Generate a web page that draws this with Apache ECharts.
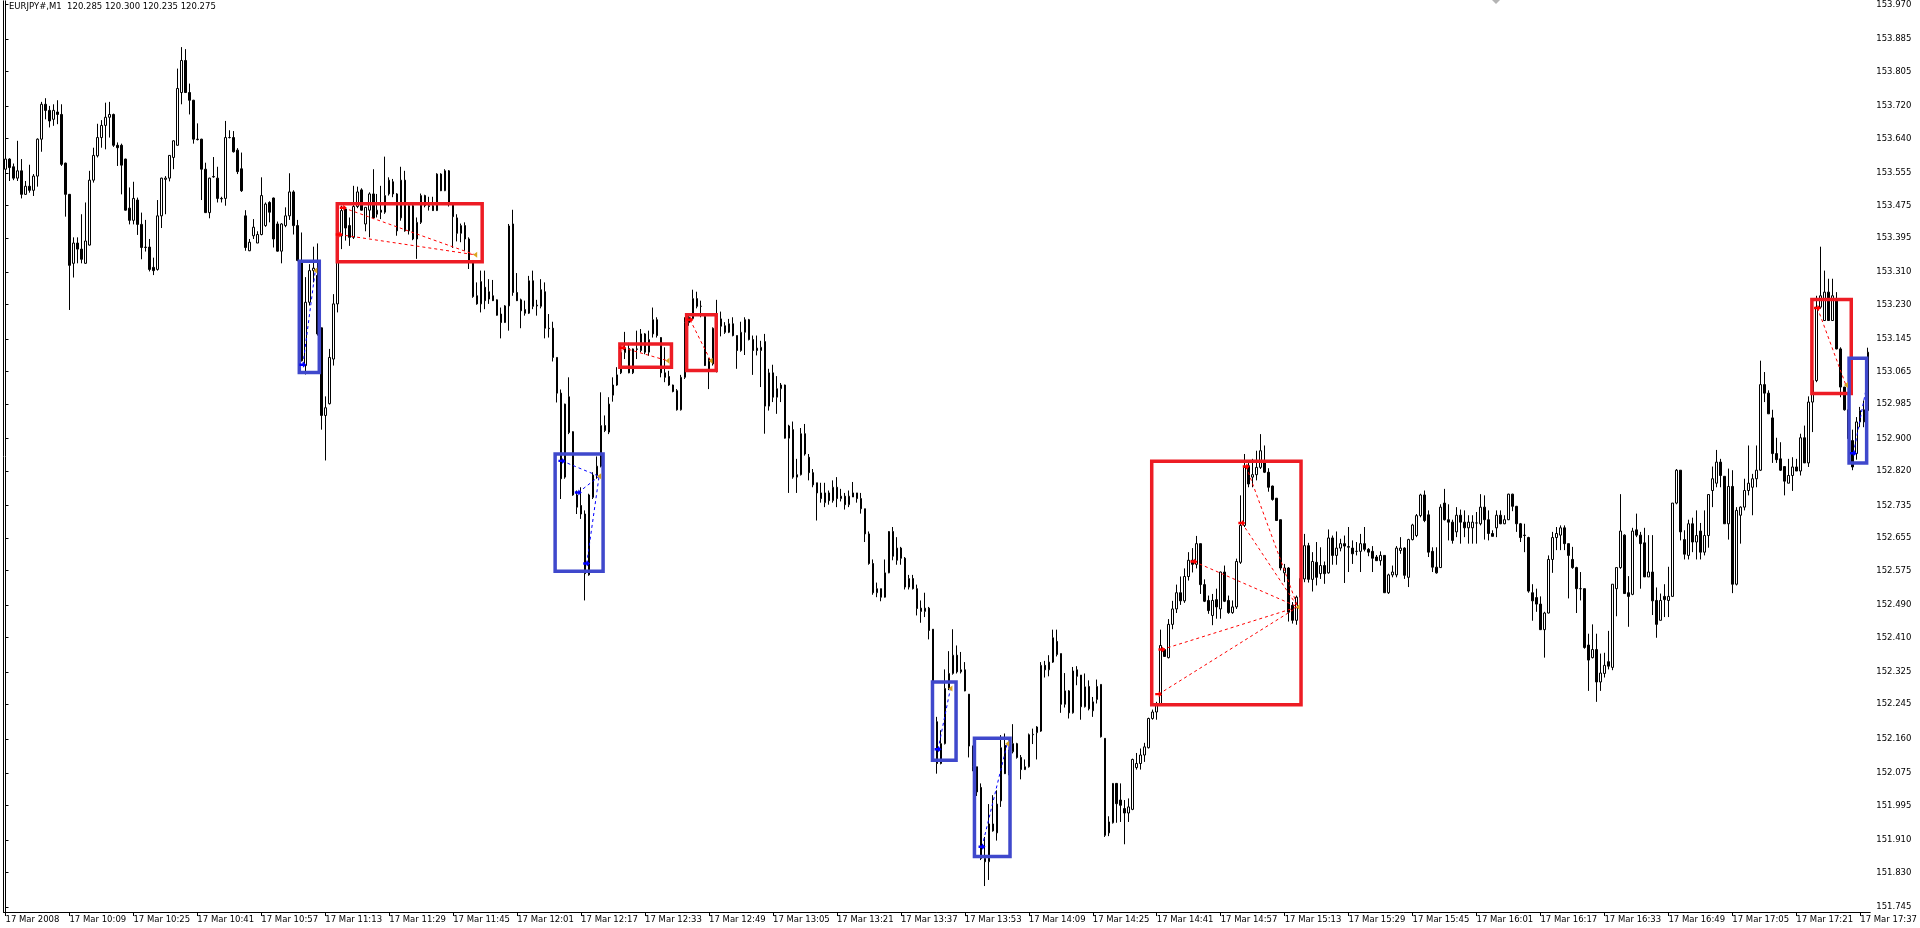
<!DOCTYPE html>
<html><head><meta charset="utf-8">
<script src="https://cdn.jsdelivr.net/npm/echarts@6/dist/echarts.min.js"></script>
<style>html,body{margin:0;padding:0;background:#fff}#c{width:1920px;height:928px}</style>
</head><body><div id="c"></div>
<script>
// ---- categories: one-minute bars from 09:53 to 17:39 on 17 Mar 2008
const startMinute = 9 * 60 + 53;
const barCount = 467;
const categories = [];
for (let i = 0; i < barCount; i++) {
  const m = startMinute + i;
  categories.push(String(Math.floor(m / 60)).padStart(2, '0') + ':' + String(m % 60).padStart(2, '0'));
}
const xTickLabels = ['17 Mar 2008','17 Mar 10:09','17 Mar 10:25','17 Mar 10:41','17 Mar 10:57','17 Mar 11:13','17 Mar 11:29','17 Mar 11:45','17 Mar 12:01','17 Mar 12:17','17 Mar 12:33','17 Mar 12:49','17 Mar 13:05','17 Mar 13:21','17 Mar 13:37','17 Mar 13:53','17 Mar 14:09','17 Mar 14:25','17 Mar 14:41','17 Mar 14:57','17 Mar 15:13','17 Mar 15:29','17 Mar 15:45','17 Mar 16:01','17 Mar 16:17','17 Mar 16:33','17 Mar 16:49','17 Mar 17:05','17 Mar 17:21','17 Mar 17:37'];
const yTickValues = [153.970,153.885,153.805,153.720,153.640,153.555,153.475,153.395,153.310,153.230,153.145,153.065,152.985,152.900,152.820,152.735,152.655,152.575,152.490,152.410,152.325,152.245,152.160,152.075,151.995,151.910,151.830,151.745];
const titleText = 'EURJPY#,M1  120.285 120.300 120.235 120.275';

const opens = [
153.564,153.589,153.570,153.542,153.560,153.502,153.522,153.512,153.547,153.638,
153.724,153.709,153.687,153.705,153.699,153.579,153.502,153.332,153.382,153.367,
153.332,153.377,153.537,153.597,153.642,153.672,153.692,153.699,153.623,153.623,
153.589,153.468,153.438,153.488,153.428,153.371,153.372,153.322,153.317,153.449,
153.539,153.542,153.593,153.623,153.753,153.832,153.753,153.734,153.638,153.638,
153.564,153.457,153.545,153.542,153.492,153.492,153.642,153.642,153.611,153.565,
153.449,153.363,153.400,153.382,153.403,153.425,153.482,153.493,153.429,153.362,
153.425,153.449,153.508,153.425,153.334,153.080,153.236,153.314,153.302,153.173,
152.957,152.986,153.096,153.232,153.400,153.466,153.425,153.396,153.472,153.513,
153.429,153.463,153.503,153.453,153.463,153.458,153.503,153.533,153.503,153.444,
153.537,153.412,153.474,153.392,153.433,153.499,153.474,153.474,153.462,153.552,
153.511,153.560,153.478,153.444,153.406,153.425,153.392,153.339,153.252,153.232,
153.273,153.244,153.252,153.242,153.207,153.186,153.227,153.429,153.260,153.242,
153.218,153.209,153.289,153.227,153.226,153.262,153.172,153.172,153.100,153.012,
152.805,153.003,152.917,152.761,152.735,152.714,152.564,152.755,152.810,152.832,
152.932,152.916,153.007,153.032,153.062,153.112,153.122,153.062,153.121,153.117,
153.158,153.113,153.158,153.193,153.149,153.062,153.053,153.032,153.018,152.971,
153.051,153.186,153.196,153.245,153.226,153.201,153.071,153.084,153.172,153.195,
153.178,153.162,153.183,153.154,153.117,153.162,153.193,153.144,153.117,153.117,
153.139,152.980,153.062,153.002,153.023,153.032,152.901,152.922,152.805,152.811,
152.912,152.854,152.816,152.791,152.766,152.742,152.766,152.747,152.780,152.752,
152.758,152.737,152.756,152.766,152.752,152.727,152.665,152.592,152.520,152.530,
152.509,152.569,152.671,152.600,152.630,152.605,152.534,152.555,152.530,152.482,
152.474,152.482,152.430,152.202,152.099,152.148,152.284,152.321,152.366,152.325,
152.330,152.270,152.142,152.091,152.040,151.865,151.857,151.950,151.928,152.007,
152.144,152.074,152.128,152.148,152.114,152.084,152.091,152.170,152.175,152.179,
152.341,152.330,152.349,152.400,152.370,152.245,152.278,152.224,152.330,152.317,
152.239,152.289,152.229,152.257,152.294,152.161,151.928,151.953,152.050,152.009,
151.988,151.977,151.986,152.089,152.099,152.120,152.138,152.210,152.226,152.247,
152.380,152.360,152.442,152.480,152.520,152.500,152.560,152.600,152.590,152.641,
152.540,152.501,152.464,152.503,152.480,152.571,152.501,152.471,152.485,152.595,
152.686,152.833,152.805,152.811,152.829,152.840,152.817,152.783,152.753,152.700,
152.569,152.581,152.489,152.452,152.509,152.554,152.636,152.553,152.595,152.567,
152.587,152.569,152.655,152.612,152.630,152.641,152.632,152.630,152.622,152.622,
152.641,152.627,152.622,152.608,152.599,152.612,152.520,152.564,152.564,152.624,
152.630,152.558,152.651,152.661,152.710,152.761,152.712,152.622,152.583,152.582,
152.741,152.700,152.694,152.670,152.711,152.694,152.680,152.680,152.692,152.690,
152.731,152.700,152.666,152.680,152.711,152.690,152.700,152.763,152.733,152.690,
152.662,152.656,152.520,152.508,152.492,152.429,152.470,152.602,152.656,152.662,
152.680,152.641,152.602,152.582,152.530,152.530,152.391,152.360,152.380,152.300,
152.321,152.350,152.336,152.530,152.582,152.662,152.520,152.516,152.675,152.662,
152.643,152.559,152.571,152.501,152.452,152.511,152.501,152.511,152.741,152.822,
152.651,152.612,152.690,152.645,152.672,152.620,152.661,152.772,152.790,152.842,
152.807,152.690,152.782,152.541,152.711,152.731,152.772,152.780,152.801,152.822,
153.033,153.012,152.951,152.863,152.850,152.831,152.790,152.809,152.830,152.820,
152.902,152.840,152.990,153.043,153.224,153.191,153.261,153.191,153.242,153.121,
153.027,152.971,152.895,152.863,152.941,152.941,152.969];

const closes = [
153.589,153.568,153.542,153.560,153.502,153.522,153.512,153.547,153.638,153.724,
153.709,153.683,153.709,153.699,153.576,153.502,153.327,153.382,153.367,153.342,
153.387,153.537,153.598,153.642,153.672,153.692,153.699,153.623,153.617,153.574,
153.463,153.438,153.492,153.428,153.371,153.372,153.317,153.314,153.449,153.542,
153.542,153.598,153.634,153.763,153.832,153.753,153.734,153.638,153.637,153.564,
153.457,153.542,153.546,153.492,153.491,153.642,153.642,153.607,153.558,153.511,
153.371,153.384,153.421,153.403,153.499,153.478,153.458,153.392,153.362,153.429,
153.449,153.508,153.425,153.339,153.092,153.236,153.314,153.320,153.158,152.957,
152.976,153.100,153.232,153.400,153.462,153.419,153.396,153.472,153.508,153.463,
153.470,153.503,153.444,153.463,153.458,153.499,153.537,153.503,153.412,153.537,
153.412,153.474,153.392,153.433,153.499,153.474,153.472,153.462,153.552,153.511,
153.560,153.482,153.447,153.406,153.425,153.392,153.339,153.250,153.232,153.287,
153.240,153.262,153.240,153.204,153.186,153.227,153.424,153.260,153.240,153.215,
153.209,153.289,153.226,153.229,153.267,153.172,153.171,153.100,153.012,152.801,
152.985,152.915,152.761,152.731,152.714,152.567,152.761,152.810,152.832,152.932,
152.920,152.985,153.032,153.057,153.112,153.122,153.062,153.121,153.120,153.158,
153.113,153.144,153.193,153.154,153.062,153.051,153.032,153.016,152.971,153.051,
153.186,153.199,153.245,153.226,153.226,153.080,153.096,153.172,153.196,153.177,
153.162,153.183,153.154,153.117,153.162,153.193,153.144,153.117,153.123,153.125,
152.980,153.062,153.002,153.023,153.032,152.901,152.931,152.805,152.811,152.912,
152.862,152.816,152.786,152.766,152.752,152.766,152.747,152.780,152.752,152.758,
152.737,152.758,152.766,152.752,152.727,152.665,152.592,152.520,152.530,152.509,
152.569,152.671,152.610,152.630,152.605,152.534,152.555,152.530,152.481,152.474,
152.482,152.427,152.210,152.099,152.148,152.284,152.321,152.366,152.325,152.330,
152.278,152.142,152.091,152.029,151.865,151.857,151.950,151.933,151.999,152.138,
152.074,152.128,152.148,152.114,152.084,152.091,152.170,152.171,152.189,152.341,
152.330,152.349,152.409,152.368,152.245,152.278,152.224,152.327,152.314,152.239,
152.288,152.234,152.251,152.289,152.165,151.922,151.955,152.050,152.000,151.996,
151.977,151.992,152.109,152.099,152.120,152.140,152.210,152.226,152.247,152.390,
152.363,152.442,152.480,152.520,152.500,152.560,152.600,152.590,152.641,152.540,
152.499,152.476,152.501,152.485,152.571,152.499,152.471,152.485,152.597,152.686,
152.829,152.788,152.811,152.829,152.870,152.817,152.780,152.750,152.698,152.581,
152.581,152.472,152.452,152.509,152.555,152.636,152.553,152.597,152.558,152.587,
152.567,152.655,152.612,152.630,152.641,152.635,152.634,152.616,152.622,152.641,
152.627,152.620,152.605,152.599,152.612,152.520,152.564,152.571,152.630,152.630,
152.563,152.651,152.687,152.710,152.761,152.698,152.620,152.583,152.569,152.731,
152.700,152.694,152.649,152.711,152.694,152.680,152.694,152.694,152.692,152.731,
152.700,152.666,152.659,152.711,152.690,152.700,152.763,152.733,152.690,152.656,
152.661,152.524,152.500,152.492,152.429,152.470,152.602,152.656,152.666,152.680,
152.641,152.612,152.582,152.530,152.530,152.385,152.354,152.380,152.300,152.322,
152.341,152.339,152.541,152.582,152.672,152.518,152.511,152.672,152.662,152.641,
152.559,152.571,152.500,152.442,152.501,152.503,152.511,152.741,152.822,152.670,
152.615,152.690,152.645,152.661,152.620,152.661,152.762,152.801,152.842,152.809,
152.690,152.782,152.541,152.723,152.731,152.772,152.790,152.801,152.822,153.033,
153.012,152.961,152.863,152.848,152.822,152.795,152.809,152.830,152.820,152.902,
152.840,152.990,153.043,153.224,153.252,153.261,153.191,153.252,153.121,153.027,
152.971,152.900,152.830,152.941,152.969,152.971,153.113];

const highs = [
153.609,153.591,153.578,153.634,153.589,153.535,153.575,153.552,153.640,153.730,
153.739,153.720,153.724,153.734,153.724,153.580,153.503,153.396,153.396,153.453,
153.482,153.560,153.617,153.676,153.685,153.728,153.730,153.701,153.630,153.627,
153.590,153.519,153.533,153.494,153.457,153.439,153.392,153.346,153.488,153.543,
153.547,153.599,153.635,153.812,153.865,153.860,153.775,153.735,153.677,153.639,
153.580,153.543,153.594,153.570,153.496,153.683,153.660,153.658,153.616,153.605,
153.463,153.392,153.441,153.411,153.544,153.482,153.485,153.494,153.435,153.431,
153.470,153.554,153.512,153.439,153.408,153.298,153.330,153.373,153.381,153.173,
153.004,153.121,153.256,153.417,153.474,153.470,153.445,153.523,153.521,153.517,
153.471,153.507,153.564,153.503,153.523,153.595,153.544,153.540,153.505,153.570,
153.560,153.478,153.476,153.445,153.504,153.501,153.496,153.496,153.554,153.554,
153.564,153.562,153.479,153.453,153.430,153.433,153.396,153.340,153.285,153.314,
153.314,153.293,153.291,153.243,153.223,153.229,153.429,153.464,153.308,153.245,
153.240,153.301,153.314,153.242,153.293,153.285,153.207,153.188,153.100,153.021,
152.986,153.051,152.918,152.772,152.780,152.723,152.764,152.817,152.856,153.014,
152.957,153.002,153.051,153.076,153.131,153.163,153.136,153.122,153.166,153.170,
153.160,153.166,153.223,153.199,153.150,153.125,153.067,153.033,153.022,153.057,
153.199,153.203,153.267,153.262,153.240,153.203,153.098,153.174,153.242,153.213,
153.187,153.195,153.199,153.154,153.188,153.199,153.195,153.154,153.154,153.141,
153.158,153.072,153.082,153.054,153.037,153.033,152.934,152.942,152.850,152.926,
152.936,152.862,152.825,152.791,152.791,152.791,152.772,152.797,152.805,152.776,
152.766,152.772,152.793,152.766,152.766,152.727,152.671,152.602,152.545,152.530,
152.602,152.672,152.682,152.657,152.633,152.608,152.564,152.564,152.540,152.501,
152.520,152.485,152.430,152.214,152.181,152.331,152.376,152.430,152.390,152.374,
152.349,152.270,152.143,152.091,152.050,151.918,151.999,152.021,152.033,152.169,
152.173,152.133,152.196,152.150,152.120,152.109,152.173,152.185,152.191,152.349,
152.352,152.366,152.429,152.429,152.370,152.322,152.280,152.337,152.339,152.317,
152.321,152.304,152.263,152.306,152.294,152.161,151.969,152.051,152.051,152.050,
152.009,152.013,152.111,152.125,152.136,152.150,152.212,152.232,152.251,152.429,
152.382,152.455,152.500,152.540,152.560,152.580,152.620,152.630,152.660,152.641,
152.553,152.513,152.517,152.530,152.572,152.587,152.513,152.501,152.604,152.760,
152.862,152.840,152.850,152.870,152.911,152.883,152.827,152.784,152.753,152.700,
152.591,152.583,152.497,152.513,152.570,152.665,152.643,152.620,152.645,152.632,
152.597,152.676,152.661,152.671,152.653,152.661,152.682,152.649,152.645,152.665,
152.682,152.630,152.635,152.613,152.622,152.612,152.567,152.587,152.635,152.657,
152.632,152.653,152.690,152.714,152.764,152.772,152.723,152.632,152.632,152.738,
152.776,152.738,152.700,152.731,152.725,152.723,152.711,152.711,152.719,152.763,
152.760,152.723,152.674,152.723,152.723,152.711,152.764,152.764,152.734,152.692,
152.690,152.658,152.541,152.530,152.511,152.473,152.612,152.670,152.682,152.686,
152.686,152.641,152.633,152.584,152.571,152.530,152.419,152.442,152.419,152.370,
152.372,152.426,152.541,152.582,152.763,152.664,152.561,152.680,152.715,152.670,
152.680,152.662,152.662,152.533,152.518,152.541,152.584,152.741,152.825,152.822,
152.674,152.700,152.705,152.723,152.692,152.723,152.762,152.831,152.872,152.850,
152.807,152.826,152.822,152.731,152.733,152.801,152.883,152.813,152.883,153.092,
153.064,153.019,152.971,152.902,152.891,152.831,152.850,152.854,152.850,152.912,
152.932,153.004,153.043,153.252,153.373,153.314,153.294,153.294,153.261,153.125,
153.027,152.985,152.922,152.953,152.978,152.994,153.124];

const lows = [
153.521,153.535,153.537,153.535,153.492,153.501,153.506,153.498,153.521,153.607,
153.687,153.667,153.671,153.675,153.572,153.447,153.217,153.297,153.332,153.332,
153.331,153.376,153.531,153.593,153.617,153.613,153.642,153.619,153.572,153.502,
153.462,153.428,153.428,153.402,153.342,153.361,153.312,153.303,153.314,153.419,
153.453,153.534,153.564,153.622,153.724,153.752,153.699,153.627,153.635,153.488,
153.456,153.443,153.543,153.482,153.482,153.474,153.640,153.605,153.552,153.508,
153.363,153.362,153.392,153.382,153.401,153.422,153.433,153.371,153.361,153.332,
153.421,153.439,153.403,153.337,153.090,153.058,153.228,153.285,153.154,152.922,
152.846,152.984,153.080,153.211,153.367,153.388,153.375,153.392,153.468,153.462,
153.411,153.396,153.441,153.445,153.441,153.454,153.499,153.495,153.400,153.437,
153.410,153.403,153.389,153.343,153.429,153.470,153.462,153.461,153.461,153.510,
153.510,153.472,153.370,153.386,153.384,153.363,153.318,153.247,153.230,153.211,
153.219,153.232,153.239,153.203,153.147,153.185,153.166,153.252,153.239,153.172,
153.203,153.207,153.219,153.203,153.221,153.147,153.149,153.090,152.989,152.751,
152.801,152.911,152.759,152.714,152.702,152.501,152.562,152.751,152.801,152.829,
152.916,152.911,152.991,153.030,153.059,153.096,153.061,153.059,153.096,153.113,
153.108,153.104,153.149,153.149,153.051,153.039,153.030,153.014,152.969,152.969,
153.047,153.178,153.195,153.221,153.199,153.079,153.022,153.080,153.063,153.152,
153.158,153.160,153.152,153.072,153.114,153.106,153.142,153.057,153.105,153.027,
152.912,152.969,152.990,152.961,152.990,152.900,152.766,152.801,152.766,152.809,
152.858,152.797,152.780,152.698,152.742,152.731,152.737,152.742,152.731,152.745,
152.725,152.731,152.756,152.742,152.715,152.645,152.589,152.515,152.509,152.499,
152.508,152.568,152.600,152.589,152.589,152.528,152.528,152.528,152.464,152.446,
152.460,152.405,152.206,152.074,152.097,152.146,152.280,152.318,152.321,152.321,
152.277,152.114,152.080,152.019,151.861,151.797,151.812,151.931,151.909,151.992,
152.073,152.070,152.124,152.111,152.060,152.083,152.089,152.147,152.109,152.177,
152.311,152.314,152.347,152.363,152.224,152.237,152.210,152.222,152.292,152.207,
152.237,152.230,152.214,152.247,152.163,151.918,151.920,151.951,151.953,151.955,
151.900,151.955,151.984,152.084,152.084,152.103,152.136,152.207,152.207,152.243,
152.362,152.358,152.430,152.470,152.490,152.495,152.550,152.570,152.580,152.517,
152.497,152.468,152.440,152.456,152.456,152.497,152.468,152.468,152.480,152.591,
152.682,152.780,152.780,152.797,152.825,152.815,152.769,152.747,152.697,152.575,
152.546,152.449,152.444,152.441,152.500,152.546,152.545,152.523,152.538,152.554,
152.542,152.567,152.589,152.589,152.622,152.544,152.571,152.591,152.612,152.571,
152.622,152.610,152.571,152.599,152.587,152.520,152.517,152.558,152.558,152.616,
152.554,152.534,152.649,152.657,152.706,152.694,152.608,152.571,152.567,152.581,
152.698,152.649,152.641,152.657,152.641,152.657,152.641,152.641,152.641,152.686,
152.651,152.649,152.659,152.657,152.689,152.689,152.699,152.721,152.670,152.645,
152.620,152.520,152.451,152.473,152.428,152.360,152.469,152.569,152.625,152.625,
152.625,152.506,152.579,152.470,152.501,152.382,152.278,152.358,152.251,152.278,
152.311,152.331,152.329,152.462,152.579,152.517,152.436,152.514,152.657,152.530,
152.559,152.559,152.465,152.409,152.452,152.460,152.460,152.510,152.738,152.649,
152.602,152.602,152.620,152.602,152.602,152.612,152.631,152.731,152.780,152.780,
152.690,152.651,152.519,152.538,152.641,152.723,152.760,152.711,152.780,152.820,
152.990,152.961,152.840,152.840,152.820,152.760,152.790,152.771,152.820,152.809,
152.840,152.830,152.916,153.039,153.220,153.190,153.190,153.190,153.120,153.002,
152.969,152.890,152.822,152.848,152.928,152.928,152.968];

// ---- drawn objects (bar index, price)
const redBoxes = [
  [83, 119.25, 153.479, 153.336],
  [153.7, 166.6, 153.133, 153.076],
  [170.4, 177.8, 153.205, 153.068],
  [286.75, 324.1, 152.844, 152.244],
  [451.9, 461.75, 153.243, 153.011]
];
const blueBoxes = [
  [73.5, 78.5, 153.337, 153.063],
  [137.5, 149.5, 152.862, 152.573],
  [231.9, 237.8, 152.300, 152.107],
  [242.4, 251.3, 152.161, 151.870],
  [461.2, 465.6, 153.098, 152.840]
];
const redSegments = [
  [84.5, 153.469, 117.5, 153.353],
  [83.5, 153.403, 117.5, 153.353],
  [154.4, 153.124, 165.6, 153.092],
  [171.25, 153.193, 176.4, 153.092],
  [288.5, 152.270, 323.3, 152.485],
  [289.3, 152.380, 323.3, 152.485],
  [297.3, 152.597, 323.3, 152.485],
  [309.3, 152.692, 323.3, 152.485],
  [310.4, 152.831, 323.3, 152.485],
  [453.3, 153.222, 460.4, 153.032]
];
const blueSegments = [
  [74.4, 153.082, 77.5, 153.314],
  [139.2, 152.845, 148.5, 152.807],
  [143.3, 152.767, 148.5, 152.807],
  [145.4, 152.592, 148.5, 152.807],
  [233.3, 152.134, 236.4, 152.284],
  [244.3, 151.894, 250.6, 152.148],
  [462.3, 152.864, 465.3, 153.014]
];
const goldEnds = [
  [117.5, 153.353], [165.6, 153.092], [176.4, 153.092], [323.3, 152.485], [460.4, 153.032],
  [77.5, 153.314], [148.5, 152.807], [236.4, 152.284], [250.6, 152.148]
];

const ohlc = opens.map((o, i) => [o, closes[i], lows[i], highs[i]]);
const redStarts = redSegments.map(s => [s[0], s[1]]);
const blueStarts = blueSegments.map(s => [s[0], s[1]]);

const FONT = 'DejaVu Sans';
const ARROW = 'path://M0,3L5,3L5,0L10,5L5,10L5,7L0,7Z';
const TRI_LEFT = 'path://M10,0L0,5L10,10Z';

function boxRender(color) {
  return function (params, api) {
    const a = api.coord([api.value(0), api.value(2)]);
    const b = api.coord([api.value(1), api.value(3)]);
    return { type: 'rect', shape: { x: a[0], y: a[1], width: b[0] - a[0], height: b[1] - a[1] },
      style: { fill: 'none', stroke: color, lineWidth: 3.5 } };
  };
}
function segRender(color) {
  return function (params, api) {
    const a = api.coord([api.value(0), api.value(1)]);
    const b = api.coord([api.value(2), api.value(3)]);
    return { type: 'line', shape: { x1: a[0], y1: a[1], x2: b[0], y2: b[1] },
      style: { stroke: color, lineWidth: 1, lineDash: [3, 3] } };
  };
}

const chart = echarts.init(document.getElementById('c'));
chart.setOption({
  animation: false,
  backgroundColor: '#ffffff',
  title: { text: titleText, left: 9, top: 2, padding: 0,
    textStyle: { fontSize: 8.5, fontWeight: 'normal', fontFamily: FONT, color: '#000' } },
  grid: { left: 3.5, right: 48.5, top: 0, bottom: 16 },
  xAxis: [
    { type: 'category', data: categories, boundaryGap: true,
      axisLine: { show: true, lineStyle: { color: '#000', width: 1 } },
      axisTick: { show: true, interval: 15, alignWithLabel: true, length: 4, lineStyle: { color: '#000' } },
      axisLabel: { show: true, interval: 15, align: 'left', margin: 3, color: '#000', fontSize: 8.5, fontFamily: FONT,
        formatter: (v, i) => xTickLabels[Math.round(i / 16)] || '' },
      splitLine: { show: false } },
    { type: 'value', min: -0.5, max: barCount - 0.5, show: false }
  ],
  yAxis: [
    { type: 'value', position: 'right', min: 151.733, max: 153.979,
      axisLine: { show: true, lineStyle: { color: '#000', width: 1 } },
      axisTick: { show: true, customValues: yTickValues, length: 3, lineStyle: { color: '#000' } },
      axisLabel: { show: true, customValues: yTickValues, formatter: v => v.toFixed(3), margin: 6,
        color: '#000', fontSize: 8.5, fontFamily: FONT },
      splitLine: { show: false } },
    { type: 'value', position: 'left', min: 151.733, max: 153.979,
      axisLine: { show: true, lineStyle: { color: '#000', width: 1 } },
      axisTick: { show: false }, axisLabel: { show: false }, splitLine: { show: false } }
  ],
  series: [
    { type: 'candlestick', xAxisIndex: 0, yAxisIndex: 0, data: ohlc, barWidth: 2, silent: true,
      itemStyle: { color: '#ffffff', color0: '#000000', borderColor: '#000000', borderColor0: '#000000', borderWidth: 1 } },
    { type: 'custom', xAxisIndex: 1, yAxisIndex: 0, data: redSegments, renderItem: segRender('#ff0000'), silent: true, z: 3 },
    { type: 'custom', xAxisIndex: 1, yAxisIndex: 0, data: blueSegments, renderItem: segRender('#0000ff'), silent: true, z: 3 },
    { type: 'custom', xAxisIndex: 1, yAxisIndex: 0, data: redBoxes, renderItem: boxRender('#ed1c24'), silent: true, z: 4 },
    { type: 'custom', xAxisIndex: 1, yAxisIndex: 0, data: blueBoxes, renderItem: boxRender('#3f48cc'), silent: true, z: 4 },
    { type: 'scatter', xAxisIndex: 1, yAxisIndex: 0, data: redStarts, symbol: ARROW, symbolSize: [7, 6],
      itemStyle: { color: '#ff0000', opacity: 1 }, silent: true, z: 5 },
    { type: 'scatter', xAxisIndex: 1, yAxisIndex: 0, data: blueStarts, symbol: ARROW, symbolSize: [7, 6],
      itemStyle: { color: '#0000ff', opacity: 1 }, silent: true, z: 5 },
    { type: 'scatter', xAxisIndex: 1, yAxisIndex: 0, data: goldEnds, symbol: TRI_LEFT, symbolSize: [4, 6],
      itemStyle: { color: '#daa520', opacity: 1 }, silent: true, z: 5 }
  ],
  graphic: [
    { type: 'polygon', shape: { points: [[1492, 0], [1500, 0], [1496, 4]] }, style: { fill: '#b4b4b4' }, silent: true }
  ]
});
</script>
</body></html>
